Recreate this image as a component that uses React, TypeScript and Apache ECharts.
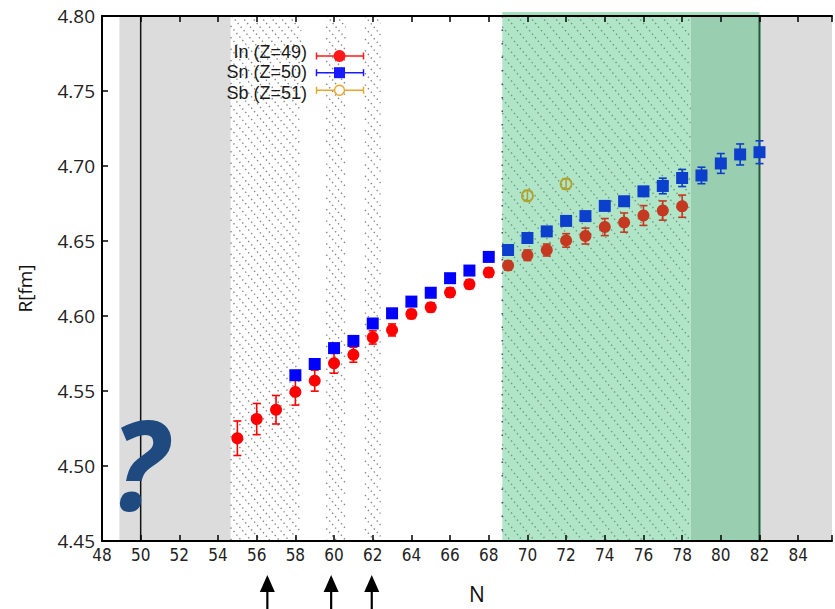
import React, { useEffect, useRef } from "react";
import * as echarts from "echarts";

const X_MIN = 48;
const X_MAX = 85.75;
const Y_MIN = 4.45;
const Y_MAX = 4.8;

// In (Z=49)
const N_IN = [55, 56, 57, 58, 59, 60, 61, 62, 63, 64, 65, 66, 67, 68, 69, 70, 71, 72, 73, 74, 75, 76, 77, 78];
const R_IN = [4.5185, 4.5313, 4.5375, 4.5494, 4.5569, 4.5685, 4.5742, 4.5857, 4.5907, 4.6013, 4.6058, 4.6157, 4.6212, 4.629, 4.6336, 4.6405, 4.644, 4.6504, 4.6533, 4.6593, 4.6623, 4.667, 4.6703, 4.6732];
const E_IN = [0.0115, 0.0104, 0.0095, 0.0088, 0.007, 0.0066, 0.005, 0.0044, 0.004, 0.003, 0.003, 0.003, 0.003, 0.003, 0.003, 0.0035, 0.004, 0.0045, 0.0053, 0.0057, 0.0064, 0.0066, 0.0064, 0.0074];

// Sn (Z=50)
const N_SN = [58, 59, 60, 61, 62, 63, 64, 65, 66, 67, 68, 69, 70, 71, 72, 73, 74, 75, 76, 77, 78, 79, 80, 81, 82];
const R_SN = [4.5605, 4.568, 4.5786, 4.5834, 4.595, 4.6018, 4.6096, 4.6155, 4.6252, 4.6303, 4.6394, 4.644, 4.652, 4.6564, 4.6634, 4.6666, 4.6734, 4.6765, 4.6831, 4.6867, 4.692, 4.6937, 4.7017, 4.7077, 4.7092];
const E_SN = [0.002, 0.002, 0.002, 0.002, 0.002, 0.002, 0.002, 0.002, 0.002, 0.002, 0.002, 0.002, 0.002, 0.002, 0.002, 0.002, 0.002, 0.002, 0.003, 0.0052, 0.0057, 0.0055, 0.0066, 0.007, 0.0076];

// Sb (Z=51)
const N_SB = [70, 72];
const R_SB = [4.6802, 4.688];
const E_SB = [0.0035, 0.0035];

// Background regions (N ranges)
const GRAY_BANDS = [[48.9, 54.65], [82, 85.75]];
const HATCH_BANDS = [[54.65, 58.3], [59.6, 60.6], [61.6, 62.4]];
const GREEN_LIGHT_BANDS = [[68.7, 78.45]];
const GREEN_DARK_BANDS = [[78.45, 82]];
const GREEN_TOP_BAR = [[68.7, 82]];
const BLACK_LINES = [50];
const GREEN_LINES = [82];
const DOTTED_LINES = [68.7];
const GREEN_START = 68.7;

const ARROW_N = [56.55, 59.85, 61.95];
const LEGEND_LABELS = ["In (Z=49)", "Sn (Z=50)", "Sb (Z=51)"];
const LEGEND_COLORS = ["#ff1a1a", "#1a1aff", "#e8a630"];

const RED = "#ff0000";
const RED_DARK = "#c4391f";
const BLUE = "#0000ff";
const BLUE_DARK = "#0b3fcc";
const OLIVE = "#b3a12c";

const LIGHT_GREEN = "#b0e5c8";
const DARK_GREEN = "#99cfb0";
const GRAY = "#dcdcdc";

function hatchLines(left: number, right: number, top: number, bottom: number, spacing: number, k: number, style: any) {
  const out: any[] = [];
  const cStart = Math.floor((left - bottom / k) / spacing) * spacing;
  const cEnd = right - top / k;
  for (let c = cStart; c <= cEnd; c += spacing) {
    const xa = Math.max(left, c + top / k);
    const xb = Math.min(right, c + bottom / k);
    if (xb - xa < 0.5) continue;
    out.push({
      type: "line",
      shape: { x1: xa, y1: k * (xa - c), x2: xb, y2: k * (xb - c) },
      style,
      silent: true,
    });
  }
  return out;
}

export default function App() {
  const ref = useRef<HTMLDivElement>(null);

  useEffect(() => {
    if (!ref.current) return;
    const chart = echarts.init(ref.current, undefined, { renderer: "svg" });

    // kind: 0 gray, 1 hatch, 2 light green + hatch, 3 dark green, 4 top bar
    const bandData: number[][] = [];
    GRAY_BANDS.forEach((b) => bandData.push([b[0], b[1], 0]));
    HATCH_BANDS.forEach((b) => bandData.push([b[0], b[1], 1]));
    GREEN_LIGHT_BANDS.forEach((b) => bandData.push([b[0], b[1], 2]));
    GREEN_DARK_BANDS.forEach((b) => bandData.push([b[0], b[1], 3]));
    GREEN_TOP_BAR.forEach((b) => bandData.push([b[0], b[1], 4]));

    const lineData: number[][] = [];
    BLACK_LINES.forEach((n) => lineData.push([n, 0]));
    GREEN_LINES.forEach((n) => lineData.push([n, 1]));
    DOTTED_LINES.forEach((n) => lineData.push([n, 2]));

    const hatchStyleWhite = { stroke: "#555", lineWidth: 1.4, lineDash: [1.4, 3.2], opacity: 0.7 };
    const hatchStyleGreen = { stroke: "#3a5a48", lineWidth: 1.4, lineDash: [1.4, 3.2], opacity: 0.55 };

    const renderBand = (params: any, api: any) => {
      const x0 = api.value(0);
      const x1 = api.value(1);
      const kind = api.value(2);
      const a = api.coord([x0, Y_MAX]);
      const b = api.coord([x1, Y_MIN]);
      const left = a[0], right = b[0], top = a[1], bottom = b[1];
      const children: any[] = [];
      if (kind === 0) {
        children.push({ type: "rect", shape: { x: left, y: top, width: right - left, height: bottom - top }, style: { fill: GRAY } });
      } else if (kind === 1) {
        children.push(...hatchLines(left, right, top, bottom, 9.5, 1.2, hatchStyleWhite));
      } else if (kind === 2) {
        children.push({ type: "rect", shape: { x: left, y: top, width: right - left, height: bottom - top }, style: { fill: LIGHT_GREEN } });
        children.push(...hatchLines(left, right, top, bottom, 12, 1.2, hatchStyleGreen));
      } else if (kind === 3) {
        children.push({ type: "rect", shape: { x: left, y: top, width: right - left, height: bottom - top }, style: { fill: DARK_GREEN } });
      } else if (kind === 4) {
        children.push({ type: "rect", shape: { x: left, y: top - 4, width: right - left, height: 4 }, style: { fill: "#a6dfbe" } });
      }
      return { type: "group", children };
    };

    const renderVLine = (params: any, api: any) => {
      const n = api.value(0);
      const kind = api.value(1);
      const a = api.coord([n, Y_MAX]);
      const b = api.coord([n, Y_MIN]);
      let style: any;
      if (kind === 0) style = { stroke: "#111", lineWidth: 1.5 };
      else if (kind === 1) style = { stroke: "#1f5a3b", lineWidth: 2 };
      else style = { stroke: "#555", lineWidth: 1.6, lineDash: [1.5, 12] };
      return { type: "line", shape: { x1: a[0], y1: a[1], x2: b[0], y2: b[1] }, style };
    };

    const makeErrRender = (colorFn: (n: number) => string, lw: number) => (params: any, api: any) => {
      const n = api.value(0);
      const lo = api.value(1);
      const hi = api.value(2);
      const a = api.coord([n, hi]);
      const b = api.coord([n, lo]);
      const st = { stroke: colorFn(n), lineWidth: lw };
      return {
        type: "group",
        children: [
          { type: "line", shape: { x1: a[0], y1: a[1], x2: b[0], y2: b[1] }, style: st },
          { type: "line", shape: { x1: a[0] - 4, y1: a[1], x2: a[0] + 4, y2: a[1] }, style: st },
          { type: "line", shape: { x1: b[0] - 4, y1: b[1], x2: b[0] + 4, y2: b[1] }, style: st },
        ],
      };
    };

    const inColor = (n: number) => (n >= GREEN_START ? RED_DARK : RED);
    const snColor = (n: number) => (n >= GREEN_START ? BLUE_DARK : BLUE);

    const errIn = N_IN.map((n, i) => [n, R_IN[i] - E_IN[i], R_IN[i] + E_IN[i]]);
    const errSn = N_SN.map((n, i) => [n, R_SN[i] - E_SN[i], R_SN[i] + E_SN[i]]);
    const errSb = N_SB.map((n, i) => [n, R_SB[i] - E_SB[i], R_SB[i] + E_SB[i]]);

    const xFont = "'Liberation Sans Narrow', 'DejaVu Sans Condensed', 'Open Sans', sans-serif";

    chart.setOption({
      animation: false,
      grid: { left: 102, right: 0, top: 16, bottom: 65.5, containLabel: false },
      xAxis: [
        {
          type: "value",
          min: X_MIN,
          max: X_MAX,
          interval: 2,
          position: "bottom",
          z: 10,
          axisLine: { show: true, lineStyle: { color: "#000", width: 2 } },
          axisTick: { show: true, inside: true, length: 6, lineStyle: { color: "#000", width: 1.5 } },
          axisLabel: {
            formatter: (v: number) => (Math.abs(v - Math.round(v)) < 1e-6 && Math.round(v) % 2 === 0 ? String(Math.round(v)) : ""),
            fontFamily: xFont,
            fontSize: 17,
            color: "#222",
            margin: 5,
          },
          splitLine: { show: false },
          name: "N",
          nameLocation: "middle",
          nameGap: 42,
          nameTextStyle: { fontFamily: "Open Sans", fontSize: 21, color: "#111", padding: [0, 0, 0, 20] },
        },
        {
          type: "value",
          min: X_MIN,
          max: X_MAX,
          interval: 2,
          position: "top",
          z: 10,
          axisLine: { show: true, lineStyle: { color: "#000", width: 2 } },
          axisTick: { show: true, inside: true, length: 6, lineStyle: { color: "#000", width: 1.5 } },
          axisLabel: { show: false },
          splitLine: { show: false },
        },
      ],
      yAxis: {
        type: "value",
        min: Y_MIN,
        max: Y_MAX,
        interval: 0.05,
        z: 10,
        axisLine: { show: true, lineStyle: { color: "#000", width: 2 } },
        axisTick: { show: true, inside: true, length: 6, lineStyle: { color: "#000", width: 1.5 } },
        axisLabel: {
          formatter: (v: number) => v.toFixed(2),
          fontFamily: "Open Sans",
          fontSize: 19,
          color: "#222",
          margin: 7,
        },
        splitLine: { show: false },
        name: "R[fm]",
        nameLocation: "middle",
        nameGap: 68,
        nameRotate: 90,
        nameTextStyle: { fontFamily: "Open Sans", fontSize: 19, color: "#111", padding: [0, 20, 0, 0] },
      },
      series: [
        {
          type: "custom",
          name: "bands",
          renderItem: renderBand,
          data: bandData,
          encode: { x: [0, 1] },
          z: 1,
          silent: true,
          clip: false,
        },
        {
          type: "custom",
          name: "vlines",
          renderItem: renderVLine,
          data: lineData,
          encode: { x: 0 },
          z: 2,
          silent: true,
        },
        {
          type: "custom",
          name: "errIn",
          renderItem: makeErrRender(inColor, 1.6),
          data: errIn,
          encode: { x: 0, y: [1, 2] },
          z: 4,
        },
        {
          type: "custom",
          name: "errSn",
          renderItem: makeErrRender(snColor, 1.6),
          data: errSn,
          encode: { x: 0, y: [1, 2] },
          z: 4,
        },
        {
          type: "custom",
          name: "errSb",
          renderItem: makeErrRender(() => OLIVE, 1.6),
          data: errSb,
          encode: { x: 0, y: [1, 2] },
          z: 4,
        },
        {
          type: "scatter",
          name: "In (Z=49)",
          symbol: "circle",
          symbolSize: 12,
          data: N_IN.map((n, i) => [n, R_IN[i]]),
          itemStyle: { color: (p: any) => inColor(p.value[0]), opacity: 1 },
          z: 5,
        },
        {
          type: "scatter",
          name: "Sn (Z=50)",
          symbol: "rect",
          symbolSize: 12,
          data: N_SN.map((n, i) => [n, R_SN[i]]),
          itemStyle: { color: (p: any) => snColor(p.value[0]), opacity: 1 },
          z: 5,
        },
        {
          type: "scatter",
          name: "Sb (Z=51)",
          symbol: "circle",
          symbolSize: 11,
          data: N_SB.map((n, i) => [n, R_SB[i]]),
          itemStyle: { color: "rgba(0,0,0,0)", borderColor: OLIVE, borderWidth: 1.8, opacity: 1 },
          z: 5,
        },
      ],
    });

    const toPx = (n: number, v: number) => chart.convertToPixel({ gridIndex: 0 }, [n, v]) as number[];

    const graphics: any[] = [];

    // question mark
    const q = toPx(49.9, 4.503);
    graphics.push({
      type: "text",
      x: q[0],
      y: q[1],
      z: 100,
      style: {
        text: "?",
        font: 'italic bold 124px "Open Sans"',
        lineHeight: 84,
        fill: "#1f4a80",
        align: "center",
        verticalAlign: "middle",
      },
    });

    // arrows under the axis
    ARROW_N.forEach((n) => {
      const p = toPx(n, Y_MIN);
      const x = p[0];
      graphics.push({
        type: "polygon",
        z: 100,
        shape: { points: [[x - 7.5, 592], [x + 7.5, 592], [x, 575]] },
        style: { fill: "#000" },
      });
      graphics.push({
        type: "line",
        z: 100,
        shape: { x1: x, y1: 590, x2: x, y2: 612 },
        style: { stroke: "#000", lineWidth: 2.2 },
      });
    });

    // legend
    const rowsText = [51.5, 72, 92.5];
    const rowsSym = [56, 72.7, 90.3];
    LEGEND_LABELS.forEach((label, i) => {
      const col = LEGEND_COLORS[i];
      graphics.push({
        type: "text",
        x: 307,
        y: rowsText[i],
        z: 100,
        style: { text: label, font: '18px "Liberation Sans"', lineHeight: 18, fill: "#1a1a1a", align: "right", verticalAlign: "middle" },
      });
      const y = rowsSym[i];
      const st = { stroke: col, lineWidth: 1.5 };
      graphics.push({ type: "line", z: 100, shape: { x1: 316.5, y1: y, x2: 363.5, y2: y }, style: st });
      graphics.push({ type: "line", z: 100, shape: { x1: 316.5, y1: y - 3.5, x2: 316.5, y2: y + 3.5 }, style: st });
      graphics.push({ type: "line", z: 100, shape: { x1: 363.5, y1: y - 3.5, x2: 363.5, y2: y + 3.5 }, style: st });
      if (i === 0) {
        graphics.push({ type: "circle", z: 101, shape: { cx: 339.5, cy: y, r: 6 }, style: { fill: col } });
      } else if (i === 1) {
        graphics.push({ type: "rect", z: 101, shape: { x: 334, y: y - 5.5, width: 11, height: 11 }, style: { fill: col } });
      } else {
        graphics.push({ type: "circle", z: 101, shape: { cx: 339.5, cy: y, r: 5 }, style: { fill: "#fff", stroke: col, lineWidth: 1.5 } });
      }
    });

    chart.setOption({ graphic: graphics });

    return () => {
      chart.dispose();
    };
  }, []);

  return (
    <div
      ref={ref}
      style={{ position: "fixed", left: 0, top: 0, width: 835, height: 609, background: "#fff" }}
    />
  );
}
